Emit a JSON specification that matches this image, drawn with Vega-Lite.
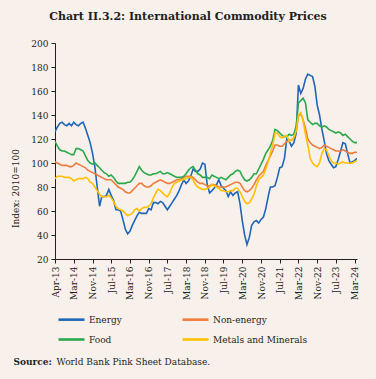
{
  "$schema": "https://vega.github.io/schema/vega-lite/v6.json",
  "width": 302,
  "height": 216,
  "autosize": {"type": "none"},
  "padding": {"left": 55, "top": 43, "right": 19, "bottom": 120},
  "background": "#f7f0eb",
  "title": {
    "text": "Chart II.3.2: International Commodity Prices",
    "font": "DejaVu Serif",
    "fontSize": 11,
    "fontWeight": "bold",
    "color": "#231f20",
    "anchor": "middle",
    "dx": -18,
    "offset": 17
  },
  "config": {
    "view": {"stroke": null},
    "font": "DejaVu Serif",
    "axis": {
      "labelFont": "DejaVu Serif",
      "titleFont": "DejaVu Serif",
      "labelColor": "#231f20",
      "titleColor": "#231f20",
      "domainColor": "#231f20",
      "tickColor": "#231f20",
      "grid": false
    }
  },
  "data": {
    "values": [
      {"d":"2013/07/01","Energy":126,"Non-energy":101,"Food":118,"Metals and Minerals":87},
      {"d":"2013/08/01","Energy":130,"Non-energy":100,"Food":114,"Metals and Minerals":89},
      {"d":"2013/09/01","Energy":133,"Non-energy":99,"Food":111,"Metals and Minerals":89},
      {"d":"2013/10/01","Energy":134,"Non-energy":98,"Food":110,"Metals and Minerals":89},
      {"d":"2013/11/01","Energy":132,"Non-energy":98,"Food":110,"Metals and Minerals":88},
      {"d":"2013/12/01","Energy":131,"Non-energy":98,"Food":109,"Metals and Minerals":88},
      {"d":"2014/01/01","Energy":133,"Non-energy":97,"Food":108,"Metals and Minerals":88},
      {"d":"2014/02/01","Energy":131,"Non-energy":97,"Food":107,"Metals and Minerals":87},
      {"d":"2014/03/01","Energy":134,"Non-energy":98,"Food":107,"Metals and Minerals":85},
      {"d":"2014/04/01","Energy":132,"Non-energy":100,"Food":112,"Metals and Minerals":86},
      {"d":"2014/05/01","Energy":131,"Non-energy":99,"Food":112,"Metals and Minerals":87},
      {"d":"2014/06/01","Energy":133,"Non-energy":98,"Food":111,"Metals and Minerals":87},
      {"d":"2014/07/01","Energy":134,"Non-energy":97,"Food":110,"Metals and Minerals":87},
      {"d":"2014/08/01","Energy":129,"Non-energy":96,"Food":106,"Metals and Minerals":88},
      {"d":"2014/09/01","Energy":123,"Non-energy":94,"Food":102,"Metals and Minerals":87},
      {"d":"2014/10/01","Energy":117,"Non-energy":93,"Food":100,"Metals and Minerals":84},
      {"d":"2014/11/01","Energy":108,"Non-energy":92,"Food":99,"Metals and Minerals":83},
      {"d":"2014/12/01","Energy":97,"Non-energy":91,"Food":100,"Metals and Minerals":80},
      {"d":"2015/01/01","Energy":80,"Non-energy":90,"Food":98,"Metals and Minerals":77},
      {"d":"2015/02/01","Energy":64,"Non-energy":89,"Food":96,"Metals and Minerals":74},
      {"d":"2015/03/01","Energy":72,"Non-energy":88,"Food":94,"Metals and Minerals":72},
      {"d":"2015/04/01","Energy":72,"Non-energy":87,"Food":92,"Metals and Minerals":72},
      {"d":"2015/05/01","Energy":73,"Non-energy":86,"Food":91,"Metals and Minerals":72},
      {"d":"2015/06/01","Energy":78,"Non-energy":86,"Food":89,"Metals and Minerals":73},
      {"d":"2015/07/01","Energy":73,"Non-energy":86,"Food":90,"Metals and Minerals":71},
      {"d":"2015/08/01","Energy":69,"Non-energy":84,"Food":88,"Metals and Minerals":68},
      {"d":"2015/09/01","Energy":61,"Non-energy":82,"Food":85,"Metals and Minerals":64},
      {"d":"2015/10/01","Energy":61,"Non-energy":80,"Food":83,"Metals and Minerals":62},
      {"d":"2015/11/01","Energy":60,"Non-energy":79,"Food":83,"Metals and Minerals":61},
      {"d":"2015/12/01","Energy":53,"Non-energy":78,"Food":83,"Metals and Minerals":60},
      {"d":"2016/01/01","Energy":45,"Non-energy":76,"Food":83,"Metals and Minerals":58},
      {"d":"2016/02/01","Energy":41,"Non-energy":75,"Food":84,"Metals and Minerals":56},
      {"d":"2016/03/01","Energy":43,"Non-energy":75,"Food":84,"Metals and Minerals":57},
      {"d":"2016/04/01","Energy":48,"Non-energy":77,"Food":86,"Metals and Minerals":58},
      {"d":"2016/05/01","Energy":52,"Non-energy":79,"Food":89,"Metals and Minerals":61},
      {"d":"2016/06/01","Energy":56,"Non-energy":81,"Food":93,"Metals and Minerals":62},
      {"d":"2016/07/01","Energy":59,"Non-energy":83,"Food":97,"Metals and Minerals":60},
      {"d":"2016/08/01","Energy":58,"Non-energy":83,"Food":94,"Metals and Minerals":62},
      {"d":"2016/09/01","Energy":58,"Non-energy":81,"Food":92,"Metals and Minerals":63},
      {"d":"2016/10/01","Energy":58,"Non-energy":80,"Food":91,"Metals and Minerals":63},
      {"d":"2016/11/01","Energy":62,"Non-energy":80,"Food":90,"Metals and Minerals":64},
      {"d":"2016/12/01","Energy":61,"Non-energy":81,"Food":90,"Metals and Minerals":66},
      {"d":"2017/01/01","Energy":67,"Non-energy":83,"Food":91,"Metals and Minerals":71},
      {"d":"2017/02/01","Energy":67,"Non-energy":84,"Food":91,"Metals and Minerals":75},
      {"d":"2017/03/01","Energy":66,"Non-energy":85,"Food":92,"Metals and Minerals":78},
      {"d":"2017/04/01","Energy":68,"Non-energy":86,"Food":93,"Metals and Minerals":77},
      {"d":"2017/05/01","Energy":67,"Non-energy":85,"Food":91,"Metals and Minerals":75},
      {"d":"2017/06/01","Energy":64,"Non-energy":84,"Food":91,"Metals and Minerals":73},
      {"d":"2017/07/01","Energy":61,"Non-energy":83,"Food":92,"Metals and Minerals":72},
      {"d":"2017/08/01","Energy":64,"Non-energy":83,"Food":91,"Metals and Minerals":75},
      {"d":"2017/09/01","Energy":67,"Non-energy":84,"Food":90,"Metals and Minerals":80},
      {"d":"2017/10/01","Energy":70,"Non-energy":85,"Food":89,"Metals and Minerals":83},
      {"d":"2017/11/01","Energy":73,"Non-energy":86,"Food":88,"Metals and Minerals":84},
      {"d":"2017/12/01","Energy":77,"Non-energy":86,"Food":88,"Metals and Minerals":85},
      {"d":"2018/01/01","Energy":82,"Non-energy":87,"Food":88,"Metals and Minerals":86},
      {"d":"2018/02/01","Energy":86,"Non-energy":88,"Food":89,"Metals and Minerals":86},
      {"d":"2018/03/01","Energy":83,"Non-energy":89,"Food":91,"Metals and Minerals":87},
      {"d":"2018/04/01","Energy":85,"Non-energy":89,"Food":94,"Metals and Minerals":88},
      {"d":"2018/05/01","Energy":89,"Non-energy":89,"Food":96,"Metals and Minerals":88},
      {"d":"2018/06/01","Energy":95,"Non-energy":88,"Food":97,"Metals and Minerals":86},
      {"d":"2018/07/01","Energy":93,"Non-energy":86,"Food":94,"Metals and Minerals":82},
      {"d":"2018/08/01","Energy":93,"Non-energy":84,"Food":91,"Metals and Minerals":80},
      {"d":"2018/09/01","Energy":95,"Non-energy":83,"Food":90,"Metals and Minerals":79},
      {"d":"2018/10/01","Energy":100,"Non-energy":83,"Food":88,"Metals and Minerals":78},
      {"d":"2018/11/01","Energy":99,"Non-energy":82,"Food":88,"Metals and Minerals":78},
      {"d":"2018/12/01","Energy":82,"Non-energy":81,"Food":88,"Metals and Minerals":79},
      {"d":"2019/01/01","Energy":75,"Non-energy":81,"Food":87,"Metals and Minerals":80},
      {"d":"2019/02/01","Energy":77,"Non-energy":82,"Food":90,"Metals and Minerals":82},
      {"d":"2019/03/01","Energy":79,"Non-energy":82,"Food":89,"Metals and Minerals":81},
      {"d":"2019/04/01","Energy":82,"Non-energy":81,"Food":88,"Metals and Minerals":80},
      {"d":"2019/05/01","Energy":86,"Non-energy":80,"Food":87,"Metals and Minerals":79},
      {"d":"2019/06/01","Energy":81,"Non-energy":80,"Food":88,"Metals and Minerals":77},
      {"d":"2019/07/01","Energy":79,"Non-energy":80,"Food":87,"Metals and Minerals":77},
      {"d":"2019/08/01","Energy":77,"Non-energy":80,"Food":86,"Metals and Minerals":76},
      {"d":"2019/09/01","Energy":72,"Non-energy":81,"Food":88,"Metals and Minerals":76},
      {"d":"2019/10/01","Energy":76,"Non-energy":82,"Food":90,"Metals and Minerals":77},
      {"d":"2019/11/01","Energy":73,"Non-energy":83,"Food":91,"Metals and Minerals":77},
      {"d":"2019/12/01","Energy":75,"Non-energy":84,"Food":93,"Metals and Minerals":79},
      {"d":"2020/01/01","Energy":76,"Non-energy":84,"Food":94,"Metals and Minerals":79},
      {"d":"2020/02/01","Energy":66,"Non-energy":83,"Food":93,"Metals and Minerals":76},
      {"d":"2020/03/01","Energy":52,"Non-energy":80,"Food":89,"Metals and Minerals":72},
      {"d":"2020/04/01","Energy":40,"Non-energy":77,"Food":86,"Metals and Minerals":68},
      {"d":"2020/05/01","Energy":32,"Non-energy":76,"Food":85,"Metals and Minerals":66},
      {"d":"2020/06/01","Energy":38,"Non-energy":77,"Food":86,"Metals and Minerals":67},
      {"d":"2020/07/01","Energy":48,"Non-energy":79,"Food":88,"Metals and Minerals":70},
      {"d":"2020/08/01","Energy":51,"Non-energy":82,"Food":91,"Metals and Minerals":74},
      {"d":"2020/09/01","Energy":52,"Non-energy":86,"Food":91,"Metals and Minerals":81},
      {"d":"2020/10/01","Energy":50,"Non-energy":89,"Food":95,"Metals and Minerals":86},
      {"d":"2020/11/01","Energy":53,"Non-energy":91,"Food":99,"Metals and Minerals":88},
      {"d":"2020/12/01","Energy":55,"Non-energy":93,"Food":103,"Metals and Minerals":90},
      {"d":"2021/01/01","Energy":62,"Non-energy":98,"Food":108,"Metals and Minerals":95},
      {"d":"2021/02/01","Energy":72,"Non-energy":102,"Food":111,"Metals and Minerals":101},
      {"d":"2021/03/01","Energy":80,"Non-energy":106,"Food":114,"Metals and Minerals":108},
      {"d":"2021/04/01","Energy":80,"Non-energy":110,"Food":119,"Metals and Minerals":115},
      {"d":"2021/05/01","Energy":81,"Non-energy":115,"Food":128,"Metals and Minerals":125},
      {"d":"2021/06/01","Energy":88,"Non-energy":115,"Food":127,"Metals and Minerals":125},
      {"d":"2021/07/01","Energy":96,"Non-energy":114,"Food":125,"Metals and Minerals":122},
      {"d":"2021/08/01","Energy":97,"Non-energy":114,"Food":123,"Metals and Minerals":121},
      {"d":"2021/09/01","Energy":104,"Non-energy":116,"Food":122,"Metals and Minerals":122},
      {"d":"2021/10/01","Energy":120,"Non-energy":118,"Food":122,"Metals and Minerals":123},
      {"d":"2021/11/01","Energy":118,"Non-energy":119,"Food":124,"Metals and Minerals":118},
      {"d":"2021/12/01","Energy":114,"Non-energy":119,"Food":123,"Metals and Minerals":119},
      {"d":"2022/01/01","Energy":117,"Non-energy":121,"Food":124,"Metals and Minerals":121},
      {"d":"2022/02/01","Energy":125,"Non-energy":127,"Food":131,"Metals and Minerals":127},
      {"d":"2022/03/01","Energy":165,"Non-energy":139,"Food":150,"Metals and Minerals":140},
      {"d":"2022/04/01","Energy":158,"Non-energy":141,"Food":152,"Metals and Minerals":142},
      {"d":"2022/05/01","Energy":162,"Non-energy":136,"Food":154,"Metals and Minerals":135},
      {"d":"2022/06/01","Energy":170,"Non-energy":129,"Food":150,"Metals and Minerals":124},
      {"d":"2022/07/01","Energy":174,"Non-energy":120,"Food":136,"Metals and Minerals":115},
      {"d":"2022/08/01","Energy":173,"Non-energy":117,"Food":134,"Metals and Minerals":104},
      {"d":"2022/09/01","Energy":172,"Non-energy":115,"Food":132,"Metals and Minerals":100},
      {"d":"2022/10/01","Energy":164,"Non-energy":114,"Food":133,"Metals and Minerals":98},
      {"d":"2022/11/01","Energy":148,"Non-energy":113,"Food":133,"Metals and Minerals":97},
      {"d":"2022/12/01","Energy":140,"Non-energy":112,"Food":131,"Metals and Minerals":100},
      {"d":"2023/01/01","Energy":128,"Non-energy":113,"Food":130,"Metals and Minerals":108},
      {"d":"2023/02/01","Energy":118,"Non-energy":115,"Food":131,"Metals and Minerals":112},
      {"d":"2023/03/01","Energy":108,"Non-energy":114,"Food":130,"Metals and Minerals":111},
      {"d":"2023/04/01","Energy":102,"Non-energy":113,"Food":128,"Metals and Minerals":106},
      {"d":"2023/05/01","Energy":99,"Non-energy":112,"Food":127,"Metals and Minerals":102},
      {"d":"2023/06/01","Energy":96,"Non-energy":111,"Food":126,"Metals and Minerals":100},
      {"d":"2023/07/01","Energy":97,"Non-energy":110,"Food":125,"Metals and Minerals":100},
      {"d":"2023/08/01","Energy":103,"Non-energy":110,"Food":126,"Metals and Minerals":99},
      {"d":"2023/09/01","Energy":110,"Non-energy":110,"Food":125,"Metals and Minerals":100},
      {"d":"2023/10/01","Energy":117,"Non-energy":111,"Food":123,"Metals and Minerals":101},
      {"d":"2023/11/01","Energy":116,"Non-energy":110,"Food":124,"Metals and Minerals":100},
      {"d":"2023/12/01","Energy":108,"Non-energy":109,"Food":122,"Metals and Minerals":100},
      {"d":"2024/01/01","Energy":100,"Non-energy":108,"Food":120,"Metals and Minerals":100},
      {"d":"2024/02/01","Energy":101,"Non-energy":108,"Food":118,"Metals and Minerals":100},
      {"d":"2024/03/01","Energy":102,"Non-energy":109,"Food":117,"Metals and Minerals":101},
      {"d":"2024/04/01","Energy":104,"Non-energy":109,"Food":117,"Metals and Minerals":102}
    ]
  },
  "transform": [
    {"fold": ["Energy", "Non-energy", "Food", "Metals and Minerals"], "as": ["series", "value"]}
  ],
  "encoding": {
    "y": {
      "field": "value",
      "type": "quantitative",
      "scale": {"domain": [20, 200], "nice": false, "zero": false},
      "axis": {
        "values": [20, 40, 60, 80, 100, 120, 140, 160, 180, 200],
        "labelOverlap": false,
        "labelFlush": false,
        "labelFontSize": 9,
        "tickSize": 4,
        "labelPadding": 3,
        "title": "Index: 2010=100",
        "titleFontSize": 9,
        "titleFontWeight": "normal",
        "titleAngle": -90,
        "titleAlign": "center",
        "titleBaseline": "middle",
        "titleX": -40,
        "titleY": 145
      }
    }
  },
  "layer": [
    {
      "mark": {"type": "line", "strokeWidth": 1.6, "clip": true},
      "encoding": {
        "x": {
          "field": "d",
          "type": "temporal",
          "scale": {"domain": [{"year": 2013, "month": "jul", "date": 1}, {"year": 2024, "month": "apr", "date": 1}]},
          "axis": {
            "orient": "bottom",
            "values": [
              {"year": 2013, "month": "jul", "date": 1},
              {"year": 2014, "month": "mar", "date": 1},
              {"year": 2014, "month": "nov", "date": 1},
              {"year": 2015, "month": "jul", "date": 1},
              {"year": 2016, "month": "mar", "date": 1},
              {"year": 2016, "month": "nov", "date": 1},
              {"year": 2017, "month": "jul", "date": 1},
              {"year": 2018, "month": "mar", "date": 1},
              {"year": 2018, "month": "nov", "date": 1},
              {"year": 2019, "month": "jul", "date": 1},
              {"year": 2020, "month": "mar", "date": 1},
              {"year": 2020, "month": "nov", "date": 1},
              {"year": 2021, "month": "jul", "date": 1},
              {"year": 2022, "month": "mar", "date": 1},
              {"year": 2022, "month": "nov", "date": 1},
              {"year": 2023, "month": "jul", "date": 1},
              {"year": 2024, "month": "mar", "date": 1}
            ],
            "labelExpr": "year(datum.value) == 2013 ? 'Apr-13' : timeFormat(datum.value, '%b-%y')",
            "labelAngle": -90,
            "labelFontSize": 9,
            "labelPadding": 3,
            "tickSize": 4,
            "labelFlush": false,
            "labelOverlap": false,
            "title": "Source:",
            "titleFontSize": 9,
            "titleFontWeight": "bold",
            "titleAlign": "left",
            "titleAnchor": "start",
            "titleBaseline": "middle",
            "titleX": -42,
            "titleY": 102
          }
        },
        "color": {
          "field": "series",
          "type": "nominal",
          "scale": {
            "domain": ["Energy", "Non-energy", "Food", "Metals and Minerals"],
            "range": ["#1f66b8", "#f07c3c", "#2aa84a", "#ffc000"]
          },
          "legend": {
            "title": null,
            "orient": "none",
            "legendX": 2,
            "legendY": 262,
            "direction": "horizontal",
            "columns": 2,
            "symbolType": "stroke",
            "symbolSize": 676,
            "symbolStrokeWidth": 2.6,
            "labelFont": "DejaVu Serif",
            "labelFontSize": 9,
            "labelColor": "#231f20",
            "labelOffset": 3,
            "columnPadding": 55,
            "rowPadding": 0
          }
        }
      }
    },
    {
      "mark": {"type": "line", "strokeOpacity": 0},
      "encoding": {
        "x": {
          "field": "d",
          "type": "temporal",
          "axis": {
            "orient": "bottom",
            "labels": false,
            "ticks": false,
            "domain": false,
            "title": "World Bank Pink Sheet Database.",
            "titleFont": "DejaVu Serif",
            "titleFontSize": 9,
            "titleFontWeight": "normal",
            "titleAlign": "left",
            "titleAnchor": "start",
            "titleBaseline": "middle",
            "titleX": 1,
            "titleY": 102
          }
        }
      }
    }
  ],
  "resolve": {"axis": {"x": "independent"}}
}
